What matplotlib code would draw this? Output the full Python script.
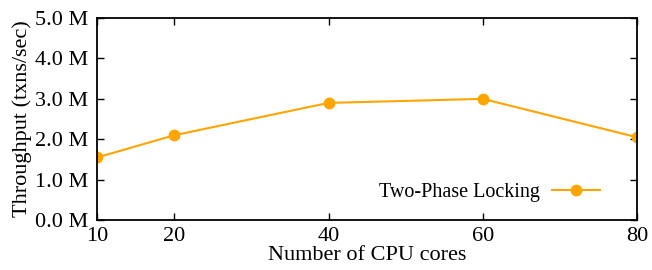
import matplotlib
matplotlib.use("Agg")
import matplotlib.pyplot as plt
from matplotlib.ticker import FuncFormatter

plt.rcParams['font.family'] = ['Liberation Serif', 'DejaVu Serif']

cores = [10, 20, 40, 60, 80]
throughput = [1.55e6, 2.1e6, 2.9e6, 3.0e6, 2.05e6]
label = "Two-Phase Locking"

fig = plt.figure(figsize=(6.52, 2.70), dpi=100)
ax = fig.add_axes([0.149, 0.185, 0.828, 0.748])

ax.plot(cores, throughput, color='#FFA500', lw=1.5, marker='o', ms=7.5, label=label)

ax.set_xlim(10, 80)
ax.set_ylim(0, 5e6)
ax.set_xticks([10, 20, 40, 60, 80])
ax.set_yticks([0, 1e6, 2e6, 3e6, 4e6, 5e6])
ax.yaxis.set_major_formatter(FuncFormatter(lambda v, p: f"{v/1e6:.1f} M"))
ax.tick_params(direction='in', top=True, right=True, labelsize=16, length=5, width=1)
ax.tick_params(axis='x', pad=5)
ax.tick_params(axis='y', pad=6.5)
for s in ax.spines.values():
    s.set_linewidth(1.3)

ax.set_xlabel("Number of CPU cores", fontsize=16, labelpad=0)
ax.set_ylabel("Throughput (txns/sec)", fontsize=16, labelpad=2)

ax.legend(loc='lower right', markerfirst=False, frameon=False, fontsize=14.5,
          handlelength=2.4, handletextpad=0.6, bbox_to_anchor=(0.965, 0.0))

fig.savefig("out.png", dpi=100)
